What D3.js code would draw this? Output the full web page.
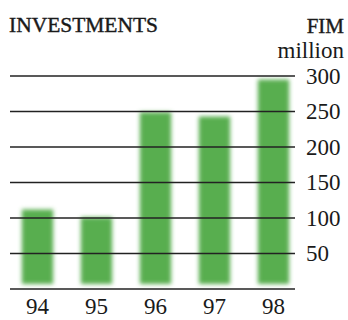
<!DOCTYPE html>
<html>
<head>
<meta charset="utf-8">
<script src="https://cdn.jsdelivr.net/npm/d3@7"></script>
<style>
  html, body { margin: 0; padding: 0; background: #fff; }
  svg { display: block; }
  text { font-family: "Liberation Serif", "Times New Roman", serif; fill: #1a1a1a; }
</style>
</head>
<body>
<svg id="chart" width="348" height="320"></svg>
<script>
// Investments, FIM million, 1994–1998
const years = ["94", "95", "96", "97", "98"];
const investments = [112, 101, 249, 243, 295];
const tickValues = [0, 50, 100, 150, 200, 250, 300];
const tickLabels = ["", "50", "100", "150", "200", "250", "300"];

const svg = d3.select("#chart");

const y = d3.scaleLinear().domain([0, 300]).range([289, 76]);
const x = d3.scaleBand().domain(years).range([8, 303]).paddingInner(0.47).paddingOuter(0.235);

const gridLeft = 10, gridRight = 295;
const barGap = 5; // bars stop a little above the baseline

// soft edge on the bars
const defs = svg.append("defs");
defs.append("filter")
    .attr("id", "soft")
    .attr("x", "-30%").attr("y", "-10%")
    .attr("width", "160%").attr("height", "120%")
  .append("feGaussianBlur")
    .attr("stdDeviation", 2.3);

// bars
svg.append("g")
    .attr("filter", "url(#soft)")
  .selectAll("rect")
  .data(years)
  .join("rect")
    .attr("x", d => x(d))
    .attr("width", x.bandwidth())
    .attr("y", (d, i) => y(investments[i]))
    .attr("height", (d, i) => y(0) - barGap - y(investments[i]))
    .attr("fill", "#58ae4f");

// horizontal rules
svg.append("g")
  .selectAll("line")
  .data(tickValues)
  .join("line")
    .attr("x1", gridLeft)
    .attr("x2", gridRight)
    .attr("y1", d => y(d))
    .attr("y2", d => y(d))
    .attr("stroke", "#222")
    .attr("stroke-width", 1.6);

// right-hand value labels
svg.append("g")
  .selectAll("text")
  .data(tickValues)
  .join("text")
    .attr("x", 306)
    .attr("y", d => y(d))
    .attr("dy", "0.34em")
    .attr("font-size", 23)
    .text((d, i) => tickLabels[i]);

// year labels
svg.append("g")
  .selectAll("text")
  .data(years)
  .join("text")
    .attr("x", d => x(d) + x.bandwidth() / 2)
    .attr("y", 314)
    .attr("text-anchor", "middle")
    .attr("font-size", 23)
    .text(d => d);

// title and unit
svg.append("text")
    .attr("x", 9)
    .attr("y", 32)
    .attr("font-size", 21)
    .attr("textLength", 149)
    .attr("lengthAdjust", "spacingAndGlyphs")
    .attr("stroke", "#1a1a1a")
    .attr("stroke-width", 0.4)
    .text("INVESTMENTS");

svg.append("text")
    .attr("x", 344)
    .attr("y", 33)
    .attr("text-anchor", "end")
    .attr("font-size", 21)
    .attr("stroke", "#1a1a1a")
    .attr("stroke-width", 0.4)
    .text("FIM");

svg.append("text")
    .attr("x", 344)
    .attr("y", 58)
    .attr("text-anchor", "end")
    .attr("font-size", 23)
    .text("million");
</script>
</body>
</html>
